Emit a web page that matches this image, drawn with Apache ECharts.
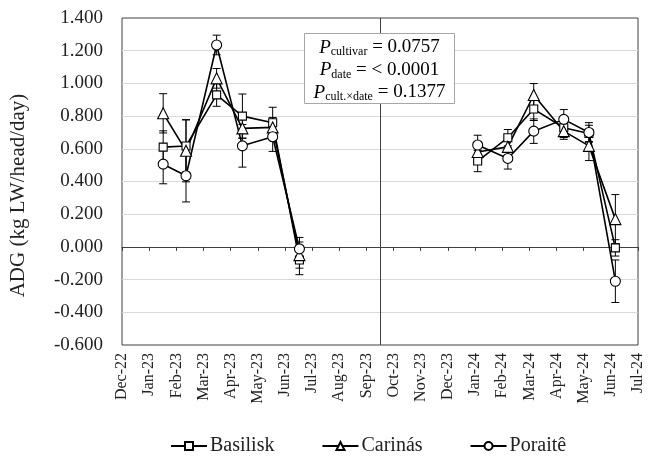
<!DOCTYPE html>
<html>
<head>
<meta charset="utf-8">
<script src="https://cdn.jsdelivr.net/npm/echarts@6/dist/echarts.min.js"></script>
<style>
html,body{margin:0;padding:0;background:#fff;}
#chart{width:649px;height:465px;}
</style>
</head>
<body>
<div id="chart"></div>
<script>
// ---- data ----
const tickLabels = ['Dec-22','Jan-23','Feb-23','Mar-23','Apr-23','May-23','Jun-23','Jul-23','Aug-23','Sep-23',
  'Oct-23','Nov-23','Dec-23','Jan-24','Feb-24','Mar-24','Apr-24','May-24','Jun-24','Jul-24'];
const axisStartYear = 2022, axisStartMonth = 12;
const seasonBreak = '2023-09-16';
const sampleDates = ['2023-01-17','2023-02-11','2023-03-16','2023-04-14','2023-05-18','2023-06-17',
  '2024-01-04','2024-02-07','2024-03-06','2024-04-09','2024-05-07','2024-06-06'];
const seriesNames = ['Basilisk','Carinás','Poraitê'];
const basilisk   = [0.610, 0.617, 0.930, 0.800, 0.759, -0.080, 0.525, 0.668, 0.843, 0.729, 0.694, -0.006];
const carinas    = [0.817, 0.588, 1.031, 0.725, 0.731, -0.050, 0.580, 0.612, 0.929, 0.708, 0.618, 0.170];
const poraite    = [0.506, 0.435, 1.235, 0.618, 0.674, -0.012, 0.623, 0.541, 0.708, 0.780, 0.700, -0.210];
const basiliskSE = [0.100, 0.160, 0.070, 0.135, 0.095, 0.090, 0.065, 0.050, 0.070, 0.060, 0.050, 0.050];
const carinasSE  = [0.120, 0.190, 0.060, 0.060, 0.060, 0.080, 0.050, 0.050, 0.070, 0.050, 0.090, 0.150];
const poraiteSE  = [0.120, 0.160, 0.060, 0.130, 0.090, 0.070, 0.060, 0.065, 0.075, 0.060, 0.060, 0.130];
const yMin = -0.6, yMax = 1.4, yStep = 0.2;
const annotationSubs = ['cultivar','date','cult.×date'];
const annotationValues = ['= 0.0757','= < 0.0001','= 0.1377'];

// ---- helpers ----
function monthPos(s){
  const [y,m,d] = s.split('-').map(Number);
  const idx = (y - axisStartYear) * 12 + (m - axisStartMonth);
  const days = new Date(y, m, 0).getDate();
  return idx + (d - 1) / days;
}
const xs = sampleDates.map(monthPos);
const breakX = monthPos(seasonBreak);
function lineData(vals){
  const out = [];
  vals.forEach((v,i)=>{ if(i===6) out.push([breakX, null]); out.push([xs[i], v]); });
  return out;
}
function errData(vals, se){ return vals.map((v,i)=>[xs[i], v - se[i], v + se[i]]); }

const FONT = 'Liberation Serif';
const symbols = ['rect','triangle','circle'];
const symSizes = [8, 11, 10];
const valsAll = [basilisk, carinas, poraite];
const seAll = [basiliskSE, carinasSE, poraiteSE];

function renderErr(params, api){
  const x = api.value(0), lo = api.value(1), hi = api.value(2);
  const a = api.coord([x, lo]), b = api.coord([x, hi]);
  const hw = 4;
  const st = {stroke:'#000', lineWidth:1};
  return {type:'group', children:[
    {type:'line', shape:{x1:a[0],y1:a[1],x2:b[0],y2:b[1]}, style:st},
    {type:'line', shape:{x1:a[0]-hw,y1:a[1],x2:a[0]+hw,y2:a[1]}, style:st},
    {type:'line', shape:{x1:b[0]-hw,y1:b[1],x2:b[0]+hw,y2:b[1]}, style:st}
  ]};
}

const series = [];
valsAll.forEach((vals, k)=>{
  series.push({
    name: seriesNames[k] + ' SE', type:'custom', xAxisIndex:0, yAxisIndex:0,
    renderItem: renderErr, data: errData(vals, seAll[k]), encode:{x:0, y:[1,2]}, z:2, silent:true
  });
});
valsAll.forEach((vals, k)=>{
  const s = {
    name: seriesNames[k], type:'line', xAxisIndex:0, yAxisIndex:0,
    data: lineData(vals), connectNulls:false,
    symbol: symbols[k], symbolSize: symSizes[k], showAllSymbol:true,
    lineStyle:{color:'#000', width:1.6},
    itemStyle:{color:'#fff', borderColor:'#000', borderWidth:1.1},
    z:3, animation:false
  };
  if(k===0){
    s.markLine = {silent:true, symbol:'none', label:{show:false},
      lineStyle:{color:'#404040', width:1, type:'solid'},
      data:[{xAxis: breakX}]};
  }
  series.push(s);
});

const richStyle = {
  p:{fontFamily:FONT, fontStyle:'italic', fontSize:19, color:'#111'},
  s:{fontFamily:FONT, fontSize:12, color:'#111', padding:[9,0,0,0]},
  n:{fontFamily:FONT, fontSize:19, color:'#111'}
};
const annChildren = [
  {type:'rect', z:100, shape:{x:0,y:0,width:150,height:70}, style:{fill:'#fff', stroke:'#a6a6a6', lineWidth:1}}
];
annotationSubs.forEach((sub,i)=>{
  annChildren.push({type:'text', z:101, x:75, y:14 + i*22.5,
    style:{text:'{p|P}{s|'+sub+'}{n| '+annotationValues[i]+'}', rich:richStyle, align:'center', verticalAlign:'middle'}});
});

const chart = echarts.init(document.getElementById('chart'), null, {renderer:'canvas'});
chart.setOption({
  animation:false,
  backgroundColor:'#fff',
  grid:{left:121, right:11, top:18, bottom:120, show:true, borderColor:'#404040', borderWidth:1},
  legend:{
    data: seriesNames, left:165, top:431, itemGap:47, itemWidth:36, itemHeight:10,
    textStyle:{fontFamily:FONT, fontSize:20, color:'#222', padding:[0,0,0,-2]}
  },
  xAxis:[{
    type:'value', min:0, max:tickLabels.length-1, interval:1, position:'bottom',
    axisLine:{show:false}, axisTick:{show:false}, splitLine:{show:false},
    axisLabel:{rotate:90, margin:8, fontFamily:FONT, fontSize:16, color:'#222',
      showMinLabel:true, showMaxLabel:true,
      formatter:(v)=>tickLabels[Math.round(v)] || ''}
  },{
    type:'value', min:0, max:tickLabels.length-1, interval:1, position:'bottom',
    axisLine:{show:true, onZero:true, onZeroAxisIndex:0, lineStyle:{color:'#404040', width:1}},
    axisTick:{show:true, inside:false, length:4, lineStyle:{color:'#404040'}},
    axisLabel:{show:false}, splitLine:{show:false}
  }],
  yAxis:{
    type:'value', min:yMin, max:yMax, interval:yStep,
    name:'ADG (kg LW/head/day)', nameLocation:'middle', nameGap:93, nameRotate:90,
    nameTextStyle:{fontFamily:FONT, fontSize:21, color:'#222', padding:[0,28,0,0]},
    axisLine:{show:false}, axisTick:{show:false},
    splitLine:{show:true, showMinLine:false, showMaxLine:false, lineStyle:{color:'#d9d9d9', width:1}},
    axisLabel:{fontFamily:FONT, fontSize:19, color:'#222', margin:19,
      formatter:(v)=> (Math.abs(v)<1e-9 ? 0 : v).toFixed(3)}
  },
  graphic:[{
    type:'group', left:304, top:33,
    children: annChildren
  }],
  series: series
});
</script>
</body>
</html>
